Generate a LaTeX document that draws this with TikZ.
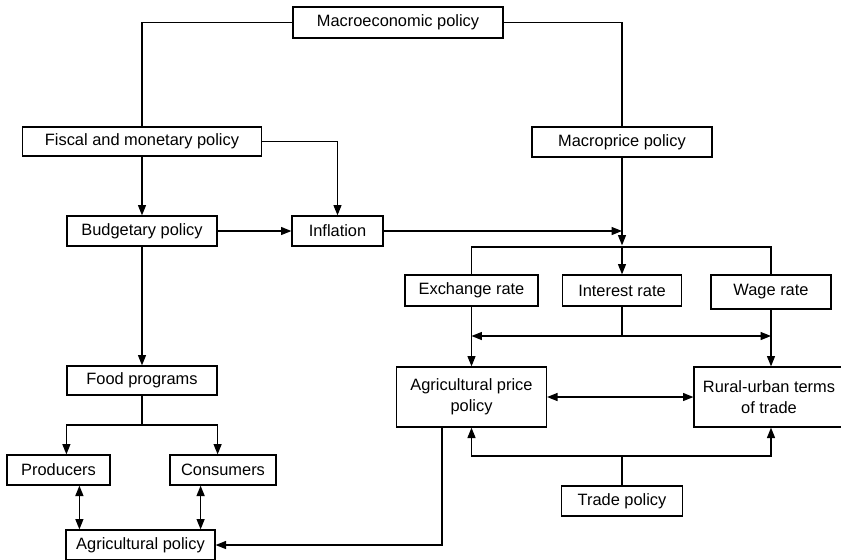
\documentclass[tikz,border=0pt]{standalone}
\usepackage{fontspec}
\setmainfont{Liberation Sans}
\usetikzlibrary{arrows.meta,calc}

\begin{document}
\begin{tikzpicture}[x=0.5pt,y=-0.5pt,
  font=\fontsize{8.2}{10.5}\selectfont,
  box/.style={draw,line width=0.6pt,inner sep=0pt,align=center},
  link/.style={line width=0.6pt},
  arr/.style={link,-{Triangle[length=5.2pt,width=4pt]}},
  biarr/.style={link,{Triangle[length=5.2pt,width=4pt]}-{Triangle[length=5.2pt,width=4pt]}}]
  \useasboundingbox (0,0) rectangle (841,559);
  % boxes
  \node[box,minimum width=105pt,minimum height=15.5pt] (macro) at (398,22.5) {Macroeconomic policy};
  \node[box,minimum width=119.5pt,minimum height=14.5pt] (fiscal) at (142,141.5) {Fiscal and monetary policy};
  \node[box,minimum width=90pt,minimum height=15pt] (macroprice) at (622,142) {Macroprice policy};
  \node[box,minimum width=75pt,minimum height=15pt] (budget) at (142,231) {Budgetary policy};
  \node[box,minimum width=45.5pt,minimum height=15pt] (inflation) at (337.5,231) {Inflation};
  \node[box,minimum width=66.5pt,minimum height=15.5pt] (exchange) at (471.5,290.5) {Exchange rate};
  \node[box,minimum width=59.5pt,minimum height=15.5pt] (interest) at (622,290.5) {Interest rate};
  \node[box,minimum width=60pt,minimum height=17pt] (wage) at (771,292) {Wage rate};
  \node[box,minimum width=75pt,minimum height=14.5pt] (food) at (142,380.5) {Food programs};
  \node[box,minimum width=75pt,minimum height=30pt] (agriprice) at (471.5,397) {Agricultural price\\policy};
  \node[box,minimum width=75pt,minimum height=30pt] (rural) at (769,397) {Rural-urban terms\\of trade};
  \node[box,minimum width=51.5pt,minimum height=15pt] (producers) at (58.5,470) {Producers};
  \node[box,minimum width=53pt,minimum height=15pt] (consumers) at (223,470) {Consumers};
  \node[box,minimum width=60.5pt,minimum height=15pt] (trade) at (622,501) {Trade policy};
  \node[box,minimum width=74.5pt,minimum height=15pt] (agripol) at (140.5,545) {Agricultural policy};
  % split points
  \coordinate (msplit) at (622,247);
  \coordinate (isplit) at (622,336);
  \coordinate (tsplit) at (622,456);
  \coordinate (fsplit) at (142,425);
  \coordinate (pl) at ([xshift=7pt]agripol.north west);
  \coordinate (cl) at ([xshift=-7.5pt]agripol.north east);
  % connectors
  \draw[link] (macro.west) -| (fiscal.north);
  \draw[link] (macro.east) -| (macroprice.north);
  \draw[arr] (fiscal.south) -- (budget.north);
  \draw[arr] (fiscal.east) -| (inflation.north);
  \draw[arr] (budget.east) -- (inflation.west);
  \draw[arr] (inflation.east) -- (inflation.east -| macroprice.south);
  \draw[arr] (macroprice.south) -- ([yshift=0.8pt]msplit);
  \draw[link] (exchange.north) |- (msplit) -| (wage.north);
  \draw[arr] (msplit) -- (interest.north);
  \draw[link] (interest.south) -- (isplit);
  \draw[arr] (isplit) -- (isplit -| exchange.south);
  \draw[arr] (isplit) -- (isplit -| wage.south);
  \draw[arr] (exchange.south) -- (agriprice.north);
  \draw[arr] (wage.south) -- (wage.south |- rural.north);
  \draw[biarr] (agriprice.east) -- (rural.west);
  \draw[link] (trade.north) -- (tsplit);
  \draw[arr] (tsplit) -| (agriprice.south);
  \draw[arr] (tsplit) -| (wage.south |- rural.south);
  \draw[arr] ([xshift=23pt]agriprice.south west) |- (agripol.east);
  \draw[arr] (budget.south) -- (food.north);
  \draw[link] (food.south) -- (fsplit);
  \draw[arr] (fsplit) -| (producers.north -| food.west);
  \draw[arr] (fsplit) -| (consumers.north -| food.east);
  \draw[biarr] (producers.south -| pl) -- (pl);
  \draw[biarr] (consumers.south -| cl) -- (cl);
\end{tikzpicture}
\end{document}
